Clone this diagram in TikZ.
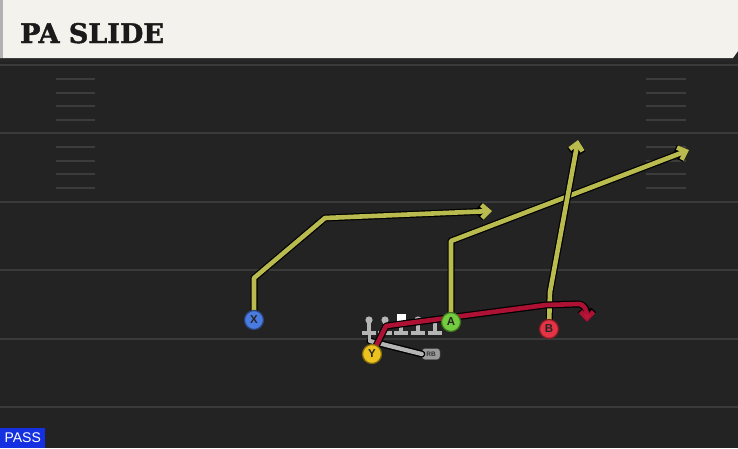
\documentclass[tikz,border=0pt]{standalone}
\usepackage{fontspec}
\usetikzlibrary{arrows.meta}
\newfontfamily\titlefont{DejaVu Serif}[BoldFeatures={FakeBold=1.6}]
\newfontfamily\labfont{Liberation Sans}
\definecolor{fieldbg}{HTML}{232323}
\definecolor{yardc}{HTML}{3A3A3A}
\definecolor{hashc}{HTML}{3C3C3C}
\definecolor{cream}{HTML}{F4F2EC}
\definecolor{titletext}{HTML}{1A1A1A}
\definecolor{passblue}{HTML}{1530E0}
\definecolor{routey}{HTML}{B9BB4E}
\definecolor{router}{HTML}{C0143A}
\definecolor{xblue}{HTML}{4A7BE0}
\definecolor{yyel}{HTML}{EBC21E}
\definecolor{agreen}{HTML}{72CC3E}
\definecolor{bred}{HTML}{E43344}
\definecolor{lmgray}{HTML}{B5B5B5}
\begin{document}
\begin{tikzpicture}[x=1pt,y=-1pt,
  yard/.style={draw=yardc, line width=2pt},
  hash/.style={draw=hashc, line width=2pt},
  outl/.style={draw=black, line width=7pt, line join=round, line cap=round},
  ry/.style={draw=routey, line width=4.6pt, line join=round, line cap=round},
  rr/.style={draw=router, line width=4.6pt, line join=round, line cap=round},
  rg/.style={draw=lmgray, line width=4.2pt, line cap=round},
  tip/.style={-{Straight Barb[length=7pt,width=13pt]}},
  player/.style={circle, minimum size=19pt, inner sep=0pt, line width=1.2pt,
    font=\labfont\bfseries\fontsize{11.5}{11.5}\selectfont, text=black!85},
  rbbox/.style={rounded corners=3pt, fill=lmgray!85!black, draw=black!70, minimum width=18pt,
    minimum height=11pt, inner sep=0pt, font=\labfont\bfseries\fontsize{6.5}{6.5}\selectfont, text=black!80},
  lm/.style={fill=lmgray}
]
\useasboundingbox (0,0) rectangle (738,448);
\fill[fieldbg] (0,0) rectangle (738,448);
% yard lines
\foreach \yy in {65,133,201.5,270,338.5,407} \draw[yard] (0,\yy) -- (738,\yy);
% hash marks
\foreach \bb in {65,133}{
  \foreach \k in {1,2,3,4}{
    \draw[hash] (56,\bb+13.8*\k) -- (95,\bb+13.8*\k);
    \draw[hash] (646,\bb+13.8*\k) -- (686,\bb+13.8*\k);
  }
}
% header
\fill[black!85] (0,56) rectangle (738,62);
\fill[cream] (0,0) -- (738,0) -- (738,51) -- (733,58) -- (0,58) -- cycle;
\fill[black!30] (0,0) rectangle (3,58);
\node[anchor=base west, inner sep=0pt, text=titletext,
  font=\titlefont\bfseries\fontsize{27}{27}\selectfont] (title) at (20,43) {PA SLIDE};
% PASS tag
\node[fill=passblue, text=white, anchor=south west, minimum width=45pt, minimum height=20pt,
  inner sep=0pt, font=\labfont\fontsize{14}{14}\selectfont] (pass) at (0,448) {PASS};

% players (positions)
\coordinate (Xp) at (254,320);
\coordinate (Yp) at (372,354);
\coordinate (Ap) at (451,322);
\coordinate (Bp) at (549,329);
% route points
\coordinate (x1) at (254,278);
\coordinate (x2) at (325,218);
\coordinate (x3) at (492,211);
\coordinate (a1) at (451,241);
\coordinate (a2) at (689,150);
\coordinate (b1) at (550,292);
\coordinate (b2) at (578,140);
\coordinate (y1) at (386,326);
\coordinate (y2) at (546,305);
\coordinate (y3) at (578,304);
\coordinate (y4) at (587,322);
\coordinate (rbs) at (370,341);

% RB node
\node[rbbox] (RB) at (431,354) {RB};
% RB fake line
\draw[outl] (rbs) -- (RB.west);
\draw[rg] (rbs) -- (RB.west);

% yellow routes
\draw[outl,tip] (Xp) -- (x1) -- (x2) -- (x3);
\draw[ry,tip] (Xp) -- (x1) -- (x2) -- (x3);
\draw[outl,tip] (Ap) -- (a1) -- (a2);
\draw[ry,tip] (Ap) -- (a1) -- (a2);
\draw[outl,tip] (Bp) -- (b1) -- (b2);
\draw[ry,tip] (Bp) -- (b1) -- (b2);

% linemen
\foreach \lx in {369,385,418,435}{
  \fill[lm] (\lx,320) circle (3.6);
  \fill[lm] (\lx-1.8,320) rectangle (\lx+1.8,333);
  \fill[lm] (\lx-7,330.5) rectangle (\lx+7,335);
}
\fill[lm] (367.5,334) rectangle (370.5,341);
\fill[lm] (399.2,320) rectangle (402.8,333);
\fill[lm] (394,330.5) rectangle (408,335);
\fill[white] (396.5,313.5) rectangle (405.5,322.5);

% red route
\draw[outl,tip] (Yp) -- (y1) -- (y2) -- (y3) .. controls (585,304) and (587,311) .. (y4);
\draw[rr,tip,opacity=0.9] (Yp) -- (y1) -- (y2) -- (y3) .. controls (585,304) and (587,311) .. (y4);

% player circles
\node[player, fill=xblue, draw=xblue!55!black] (X) at (Xp) {X};
\node[player, fill=yyel, draw=yyel!55!black] (Y) at (Yp) {Y};
\node[player, fill=agreen, draw=agreen!55!black] (A) at (Ap) {A};
\node[player, fill=bred, draw=bred!55!black] (B) at (Bp) {B};
\end{tikzpicture}
\end{document}
